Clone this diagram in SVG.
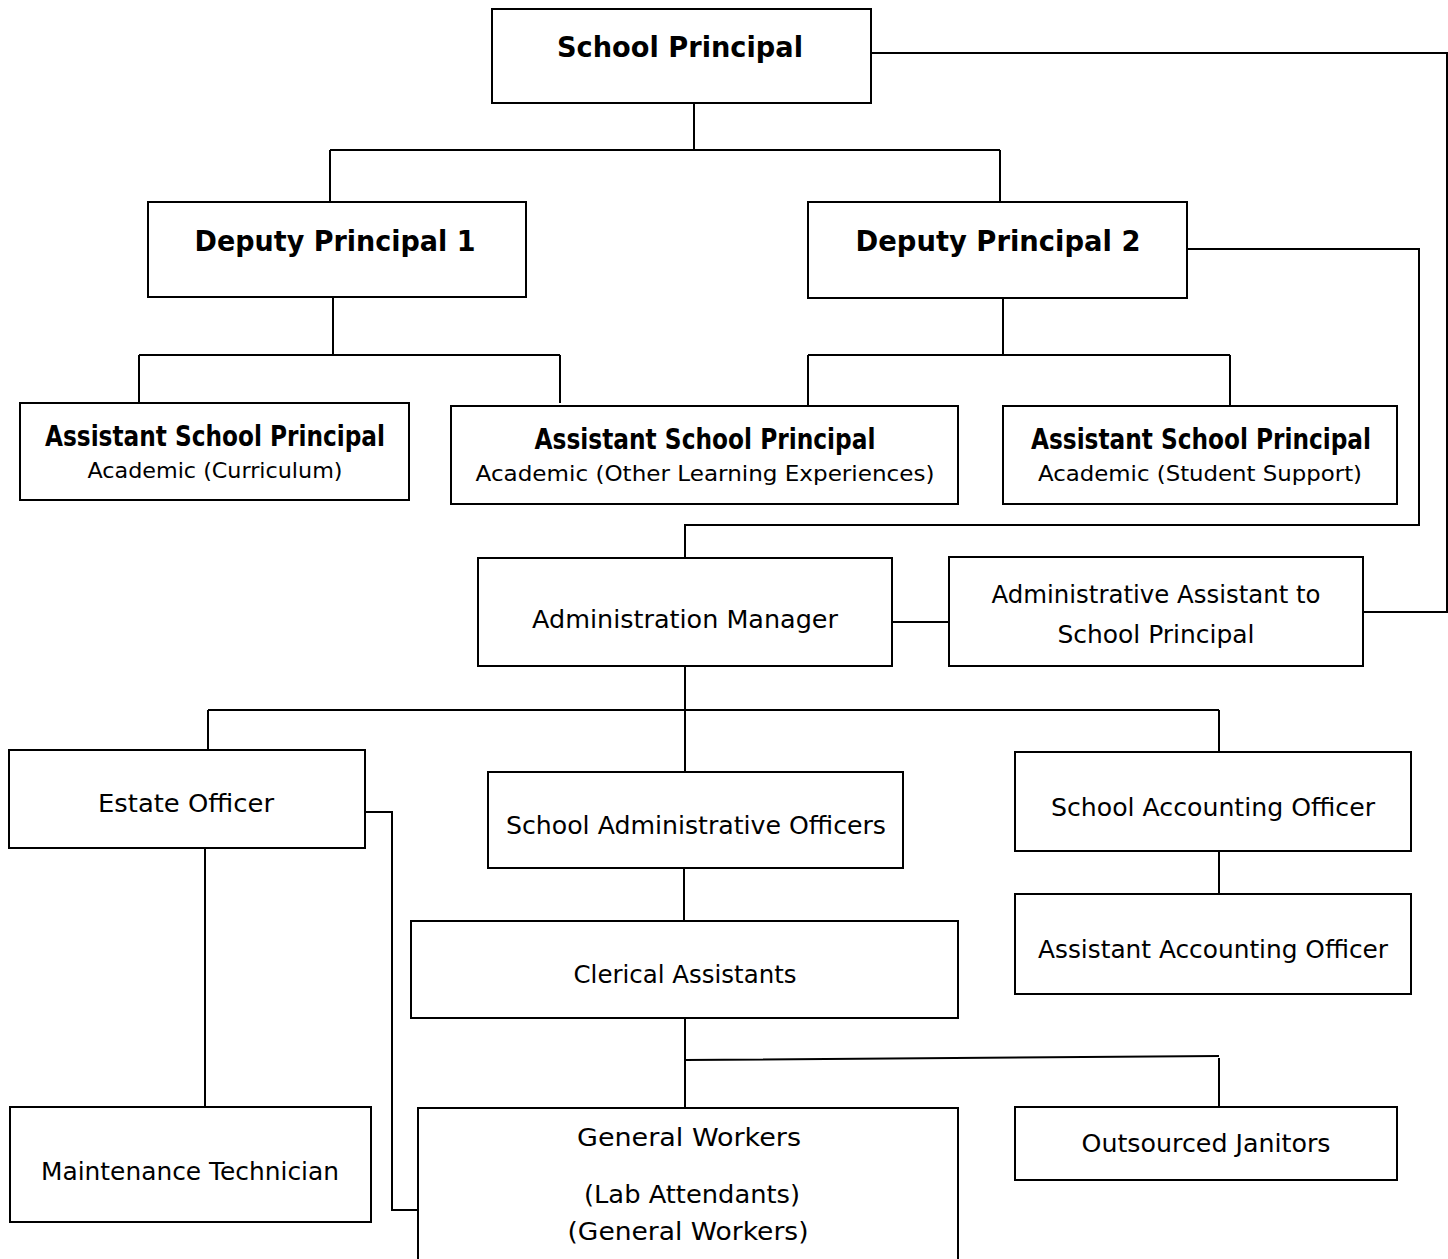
<svg xmlns="http://www.w3.org/2000/svg" width="1448" height="1259" viewBox="0 0 1448 1259">
<style>
.box{fill:#fff;stroke:#000;stroke-width:2}
.t{font-family:"DejaVu Sans","Liberation Sans",sans-serif;font-size:24px;text-anchor:middle;fill:#000}
.b{font-weight:bold;font-size:28px}
.s{font-size:21px}
.c{fill:none;stroke:#000;stroke-width:2}
</style>
<rect width="1448" height="1259" fill="#fff"/>
<g id="connectors">
<path class="c" d="M694,103V150M330,150H1000M330,150V202M1000,150V202"/>
<path class="c" d="M871,53H1447V612H1363"/>
<path class="c" d="M333,297V355M139,355H560M139,355V403M560,355V403"/>
<path class="c" d="M1003,298V355M808,355H1230M808,355V406M1230,355V406"/>
<path class="c" d="M1187,249H1419V525H685V558"/>
<path class="c" d="M892,622H949"/>
<path class="c" d="M685,666V710M208,710H1219M208,710V750M685,710V772M1219,710V752"/>
<path class="c" d="M205,848V1107"/>
<path class="c" d="M365,812H392V1210H418"/>
<path class="c" d="M684,868V921"/>
<path class="c" d="M685,1018V1108M685,1060L1219,1056M1219,1058V1107"/>
<path class="c" d="M1219,851V894"/>
</g>
<g id="school-principal"><rect class="box" x="492" y="9" width="379" height="94"/><text class="t b" x="680" y="57" textLength="246" lengthAdjust="spacingAndGlyphs">School Principal</text></g>
<g id="deputy-principal-1"><rect class="box" x="148" y="202" width="378" height="95"/><text class="t b" x="335" y="251" textLength="281" lengthAdjust="spacingAndGlyphs">Deputy Principal 1</text></g>
<g id="deputy-principal-2"><rect class="box" x="808" y="202" width="379" height="96"/><text class="t b" x="998" y="251" textLength="285" lengthAdjust="spacingAndGlyphs">Deputy Principal 2</text></g>
<g id="asp-curriculum"><rect class="box" x="20" y="403" width="389" height="97"/><text class="t b" x="215" y="446" textLength="340" lengthAdjust="spacingAndGlyphs">Assistant School Principal</text><text class="t s" x="215" y="478" textLength="255" lengthAdjust="spacingAndGlyphs">Academic (Curriculum)</text></g>
<g id="asp-ole"><rect class="box" x="451" y="406" width="507" height="98"/><text class="t b" x="705" y="449" textLength="341" lengthAdjust="spacingAndGlyphs">Assistant School Principal</text><text class="t s" x="705" y="481" textLength="459" lengthAdjust="spacingAndGlyphs">Academic (Other Learning Experiences)</text></g>
<g id="asp-student-support"><rect class="box" x="1003" y="406" width="394" height="98"/><text class="t b" x="1201" y="449" textLength="340" lengthAdjust="spacingAndGlyphs">Assistant School Principal</text><text class="t s" x="1200" y="481" textLength="324" lengthAdjust="spacingAndGlyphs">Academic (Student Support)</text></g>
<g id="administration-manager"><rect class="box" x="478" y="558" width="414" height="108"/><text class="t" x="685" y="628" textLength="306" lengthAdjust="spacingAndGlyphs">Administration Manager</text></g>
<g id="admin-assistant"><rect class="box" x="949" y="557" width="414" height="109"/><text class="t" x="1156" y="603" textLength="329" lengthAdjust="spacingAndGlyphs">Administrative Assistant to</text><text class="t" x="1156" y="643" textLength="197" lengthAdjust="spacingAndGlyphs">School Principal</text></g>
<g id="estate-officer"><rect class="box" x="9" y="750" width="356" height="98"/><text class="t" x="186" y="812" textLength="176" lengthAdjust="spacingAndGlyphs">Estate Officer</text></g>
<g id="school-admin-officers"><rect class="box" x="488" y="772" width="415" height="96"/><text class="t" x="696" y="834" textLength="380" lengthAdjust="spacingAndGlyphs">School Administrative Officers</text></g>
<g id="school-accounting-officer"><rect class="box" x="1015" y="752" width="396" height="99"/><text class="t" x="1213" y="816" textLength="324" lengthAdjust="spacingAndGlyphs">School Accounting Officer</text></g>
<g id="assistant-accounting-officer"><rect class="box" x="1015" y="894" width="396" height="100"/><text class="t" x="1213" y="958" textLength="350" lengthAdjust="spacingAndGlyphs">Assistant Accounting Officer</text></g>
<g id="clerical-assistants"><rect class="box" x="411" y="921" width="547" height="97"/><text class="t" x="685" y="983" textLength="223" lengthAdjust="spacingAndGlyphs">Clerical Assistants</text></g>
<g id="maintenance-technician"><rect class="box" x="10" y="1107" width="361" height="115"/><text class="t" x="190" y="1180" textLength="298" lengthAdjust="spacingAndGlyphs">Maintenance Technician</text></g>
<g id="general-workers"><rect class="box" x="418" y="1108" width="540" height="170"/><text class="t" x="689" y="1146" textLength="224" lengthAdjust="spacingAndGlyphs">General Workers</text><text class="t" x="692" y="1203" textLength="216" lengthAdjust="spacingAndGlyphs">(Lab Attendants)</text><text class="t" x="688" y="1240" textLength="241" lengthAdjust="spacingAndGlyphs">(General Workers)</text></g>
<g id="outsourced-janitors"><rect class="box" x="1015" y="1107" width="382" height="73"/><text class="t" x="1206" y="1152" textLength="249" lengthAdjust="spacingAndGlyphs">Outsourced Janitors</text></g>
</svg>
